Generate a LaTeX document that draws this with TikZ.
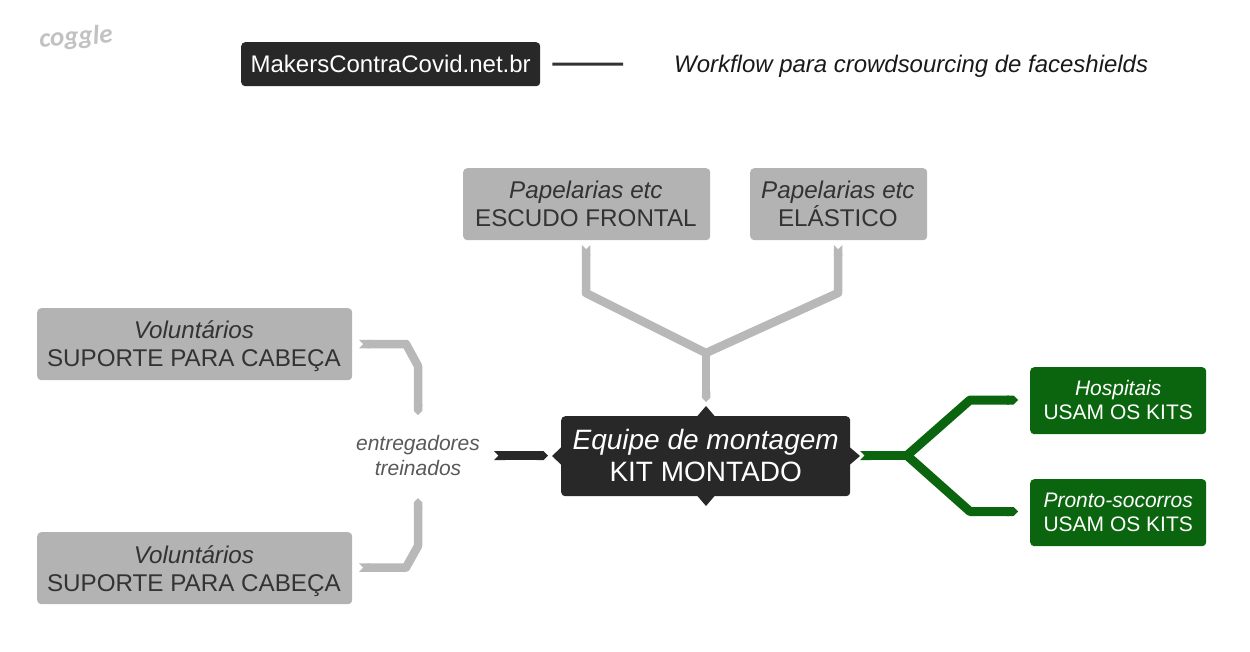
\documentclass[tikz,border=0pt]{standalone}
\usepackage{fontspec}
\setmainfont{Liberation Sans}
\newfontfamily\logofont{Carlito}
\usetikzlibrary{arrows.meta}
\definecolor{dark}{HTML}{282828}
\definecolor{midgray}{HTML}{B3B3B3}
\definecolor{boxtext}{HTML}{333333}
\definecolor{linkgray}{HTML}{B8B8B8}
\definecolor{forest}{HTML}{0B650F}
\definecolor{softtext}{HTML}{595959}
\newcommand{\raiseone}{\rule[-2pt]{0pt}{2pt}}
\newcommand{\nudgeleft}{\hspace*{1.6pt}}
\tikzset{
  x=1pt,y=-1pt,
  box/.style={rounded corners=4pt,inner sep=0pt,anchor=north west,align=center},
  graybox/.style={box,fill=midgray,text=boxtext,font=\fontsize{24.2}{28}\selectfont},
  greenbox/.style={box,fill=forest,text=white,font=\fontsize{21}{24}\selectfont},
  link/.style={line width=9pt,line join=round,{Triangle Cap[reversed]}-{Triangle Cap}},
  linkstart/.style={line width=9pt,{Triangle Cap[reversed]}-},
  linkend/.style={line width=9pt,-{Triangle Cap}},
  graylink/.style={linkgray,line width=8.5pt,line join=round},
}
\begin{document}
\begin{tikzpicture}
\useasboundingbox (0,0) rectangle (1250,651);
% logo
\node[text=black!24,font=\logofont\fontsize{27}{27}\selectfont\bfseries\itshape,rotate=4] (logo) at (76,38) {coggle};
% header
\node[box,fill=dark,text=white,minimum width=299pt,minimum height=44pt,font=\fontsize{24}{28}\selectfont] (title) at (241,42) {MakersContraCovid.net.br};
\node[text=black!90,font=\fontsize{23.95}{28}\selectfont\itshape,anchor=base west,inner sep=0pt] (wf) at (674,72.2) {Workflow para crowdsourcing de faceshields};
\draw[line width=3pt,boxtext] (title.east)++(12,0) coordinate (t1) -- (623,64) coordinate (t2);
% gray boxes
\node[graybox,minimum width=247pt,minimum height=72pt] (p1) at (463,168) {\textit{Papelarias etc}\nudgeleft\\ESCUDO FRONTAL\nudgeleft};
\node[graybox,minimum width=177pt,minimum height=72pt] (p2) at (750,168) {\textit{Papelarias etc}\nudgeleft\\ELÁSTICO\nudgeleft};
\node[graybox,minimum width=315pt,minimum height=72pt] (v1) at (37,308) {\textit{Voluntários}\nudgeleft\\SUPORTE PARA CABE\smash{Ç}A\nudgeleft};
\node[graybox,minimum width=315pt,minimum height=72pt] (v2) at (37,532) {\textit{Voluntários}\nudgeleft\\SUPORTE PARA CABE\smash{Ç}A\nudgeleft};
% centre
\node[box,fill=dark,text=white,minimum width=289pt,minimum height=80pt,font=\fontsize{28}{32}\selectfont] (kit) at (561,416) {\textit{Equipe de montagem}\\KIT MONTADO\raiseone};
\fill[dark] (697,416.5) -- (706,406) -- (715,416.5) -- cycle;
\fill[dark] (697,495.5) -- (706,506) -- (715,495.5) -- cycle;
\fill[dark] (561.5,447) -- (552,456) -- (561.5,465) -- cycle;
\fill[dark] (849.5,447) -- (860,456) -- (849.5,465) -- cycle;
% middle label
\node[text=softtext,font=\fontsize{21}{25}\selectfont\itshape,align=center,inner sep=0pt] (ent) at (418,455.5) {entregadores\\treinados};
% green boxes
\node[greenbox,minimum width=176pt,minimum height=67pt] (h) at (1030,367) {\textit{Hospitais}\\USAM OS KITS\raiseone};
\node[greenbox,minimum width=176pt,minimum height=67pt] (s) at (1030,479) {\textit{Pronto-socorros}\\USAM OS KITS};
% junction coordinates
\coordinate (jt) at (706,353);
\coordinate (jg) at (907,455.5);
% papelarias to kit
\draw[linkstart,graylink] (586,245) -- (586,293) -- (jt);
\draw[linkstart,graylink] (838,245) -- (838,293) -- (jt);
\draw[linkend,graylink] (jt) -- (706,402);
% volunteers to entregadores
\draw[link,graylink] (359,344) -- (406,344) -- (418,366) -- (418,415);
\draw[link,graylink] (359,567.5) -- (406,567.5) -- (418,546) -- (418,498);
% entregadores to kit
\draw[link,dark] (494,455.5) -- (548,455.5);
% kit to green
\draw[linkstart,forest] (860,455.5) -- (jg);
\draw[linkend,forest,line join=round] (jg) -- (970,400) -- (1018,400);
\draw[linkend,forest,line join=round] (jg) -- (970,511.5) -- (1018,511.5);
\end{tikzpicture}
\end{document}
